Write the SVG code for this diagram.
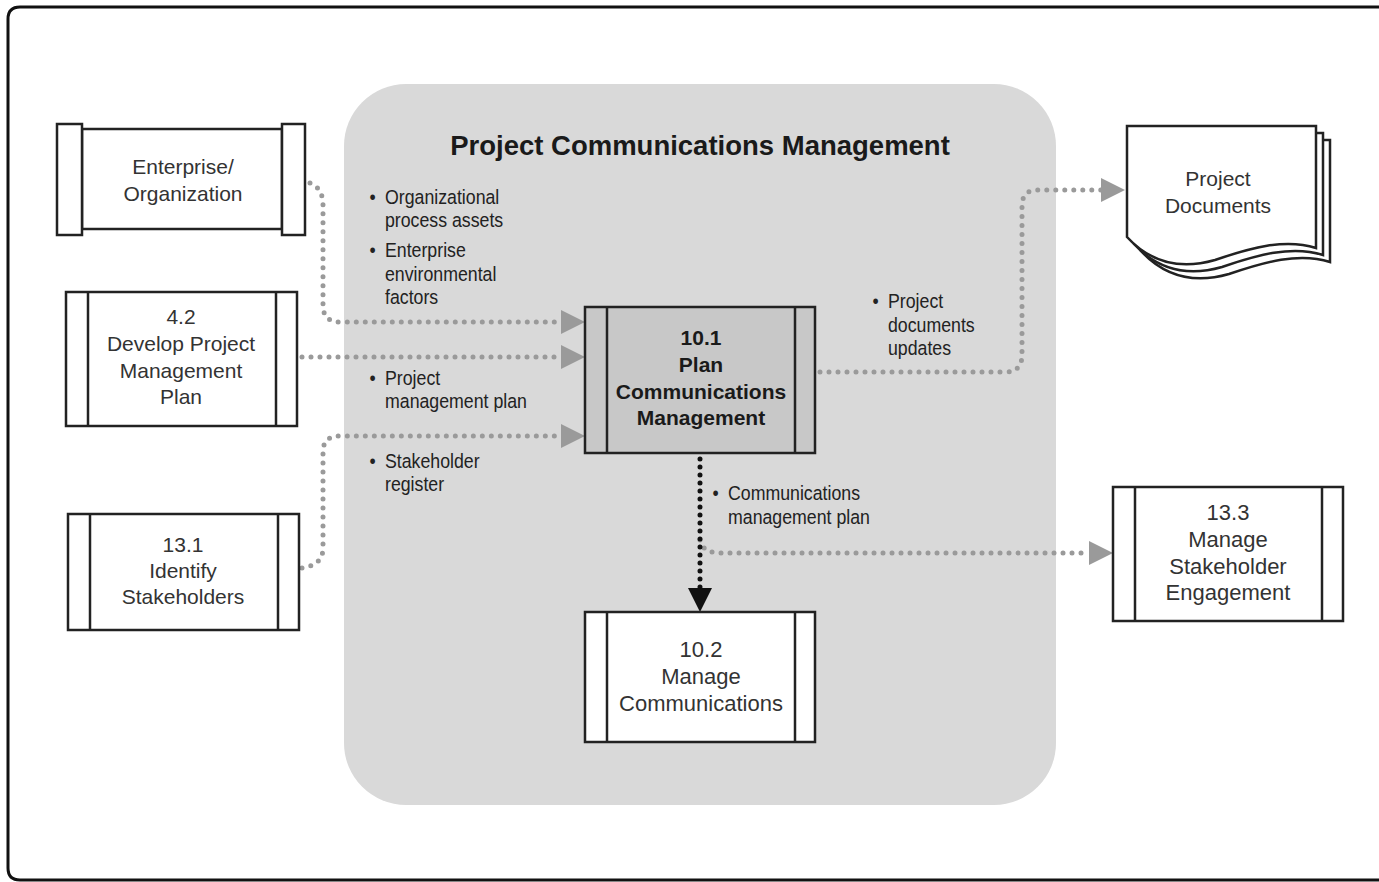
<svg xmlns="http://www.w3.org/2000/svg" width="1379" height="882" viewBox="0 0 1379 882">
<style>
.box{fill:#fff;stroke:#222;stroke-width:2.5}
.gbox{fill:#c8c8c8;stroke:#222;stroke-width:2.5}
.ln{stroke:#222;stroke-width:2.5}
.nt{font-family:"Liberation Sans",Arial,sans-serif;font-size:21px;fill:#333;text-anchor:middle}
.bt{font-family:"Liberation Sans",Arial,sans-serif;font-size:21px;font-weight:bold;fill:#1a1a1a;text-anchor:middle}
.lb{font-family:"Liberation Sans Narrow","Liberation Sans",Arial,sans-serif;font-size:19.5px;fill:#222}
.gd{fill:none;stroke:#9a9a9a;stroke-width:5;stroke-linecap:round;stroke-dasharray:0 9}
.kd{fill:none;stroke:#111;stroke-width:5;stroke-linecap:round;stroke-dasharray:0 8}
.doc{fill:#fff;stroke:#222;stroke-width:2.5}
</style>
<defs>
<marker id="ga" viewBox="0 0 24 24" refX="0" refY="12" markerWidth="24" markerHeight="24" markerUnits="userSpaceOnUse" orient="auto"><path d="M0,0 L24,12 L0,24 Z" fill="#9a9a9a"/></marker>
<marker id="ka" viewBox="0 0 24 24" refX="0" refY="12" markerWidth="24" markerHeight="24" markerUnits="userSpaceOnUse" orient="auto"><path d="M0,0 L24,12 L0,24 Z" fill="#111"/></marker>
</defs>
<rect x="0" y="0" width="1379" height="882" fill="#fff"/>
<path d="M1390,7 L20,7 Q8,7 8,19 L8,868 Q8,880 20,880 L1390,880" fill="none" stroke="#111" stroke-width="3"/>
<rect x="344" y="84" width="712" height="721" rx="62" fill="#d9d9d9"/>
<text x="700" y="155" font-family="Liberation Sans,Arial,sans-serif" font-size="27.5" font-weight="bold" fill="#1a1a1a" text-anchor="middle">Project Communications Management</text>

<g id="connectors">
<path class="gd" d="M310,183 Q323,188 323,205 L323,305 Q323,322 340,322 L561,322" marker-end="url(#ga)"/>
<path class="gd" d="M302,357 L561,357" marker-end="url(#ga)"/>
<path class="gd" d="M302,568 Q323,565 323,548 L323,452 Q323,436 340,436 L561,436" marker-end="url(#ga)"/>
<path class="gd" d="M820,372 L1005,372 Q1022,372 1022,355 L1022,206 Q1022,190 1038,190 L1101,190" marker-end="url(#ga)"/>
<path class="gd" d="M700,540 Q703,553 720,553 L1089,553" marker-end="url(#ga)"/>
<path class="kd" d="M700,459 L700,588" marker-end="url(#ka)"/>
</g>

<g id="labels">
<g transform="translate(385 0) scale(0.91 1)">
<text class="lb" x="-17" y="204">•</text><text class="lb" x="0" y="204">Organizational</text>
<text class="lb" x="0" y="227">process assets</text>
<text class="lb" x="-17" y="257">•</text><text class="lb" x="0" y="257">Enterprise</text>
<text class="lb" x="0" y="281">environmental</text>
<text class="lb" x="0" y="304">factors</text>
<text class="lb" x="-17" y="385">•</text><text class="lb" x="0" y="385">Project</text>
<text class="lb" x="0" y="408">management plan</text>
<text class="lb" x="-17" y="468">•</text><text class="lb" x="0" y="468">Stakeholder</text>
<text class="lb" x="0" y="491">register</text>
</g>
<g transform="translate(888 0) scale(0.91 1)">
<text class="lb" x="-17" y="308">•</text><text class="lb" x="0" y="308">Project</text>
<text class="lb" x="0" y="332">documents</text>
<text class="lb" x="0" y="355">updates</text>
</g>
<g transform="translate(728 0) scale(0.91 1)">
<text class="lb" x="-17" y="500">•</text><text class="lb" x="0" y="500">Communications</text>
<text class="lb" x="0" y="524">management plan</text>
</g>
</g>

<g id="enterprise">
<rect class="box" x="82" y="129" width="200" height="100"/>
<rect class="box" x="57" y="124" width="25" height="111"/>
<rect class="box" x="282" y="124" width="23" height="111"/>
<text class="nt" x="183" y="174">Enterprise/</text>
<text class="nt" x="183" y="201">Organization</text>
</g>

<g id="n42">
<rect class="box" x="66" y="292" width="231" height="134"/>
<line class="ln" x1="88" y1="292" x2="88" y2="426"/>
<line class="ln" x1="276" y1="292" x2="276" y2="426"/>
<text class="nt" x="181" y="324">4.2</text>
<text class="nt" x="181" y="351">Develop Project</text>
<text class="nt" x="181" y="378">Management</text>
<text class="nt" x="181" y="404">Plan</text>
</g>

<g id="n131">
<rect class="box" x="68" y="514" width="231" height="116"/>
<line class="ln" x1="90" y1="514" x2="90" y2="630"/>
<line class="ln" x1="278" y1="514" x2="278" y2="630"/>
<text class="nt" x="183" y="552">13.1</text>
<text class="nt" x="183" y="578">Identify</text>
<text class="nt" x="183" y="604">Stakeholders</text>
</g>

<g id="n101">
<rect class="gbox" x="585" y="307" width="230" height="146"/>
<line class="ln" x1="607" y1="307" x2="607" y2="453"/>
<line class="ln" x1="795" y1="307" x2="795" y2="453"/>
<text class="bt" x="701" y="345">10.1</text>
<text class="bt" x="701" y="372">Plan</text>
<text class="bt" x="701" y="399">Communications</text>
<text class="bt" x="701" y="425">Management</text>
</g>

<g id="n102">
<rect class="box" x="585" y="612" width="230" height="130"/>
<line class="ln" x1="607" y1="612" x2="607" y2="742"/>
<line class="ln" x1="795" y1="612" x2="795" y2="742"/>
<text class="nt" x="701" y="657" style="font-size:22px">10.2</text>
<text class="nt" x="701" y="684" style="font-size:22px">Manage</text>
<text class="nt" x="701" y="711" style="font-size:22px">Communications</text>
</g>

<g id="n133">
<rect class="box" x="1113" y="487" width="230" height="134"/>
<line class="ln" x1="1135" y1="487" x2="1135" y2="621"/>
<line class="ln" x1="1322" y1="487" x2="1322" y2="621"/>
<text class="nt" x="1228" y="520" style="font-size:22px">13.3</text>
<text class="nt" x="1228" y="547" style="font-size:22px">Manage</text>
<text class="nt" x="1228" y="574" style="font-size:22px">Stakeholder</text>
<text class="nt" x="1228" y="600" style="font-size:22px">Engagement</text>
</g>

<g id="projdocs">
<path class="doc" d="M1141,140 L1330,140 L1330,262 C1299,252 1264,262 1229,274 C1194,284 1164,276 1141,251 Z"/>
<path class="doc" d="M1134,133 L1323,133 L1323,255 C1292,245 1257,255 1222,267 C1187,277 1157,269 1134,244 Z"/>
<path class="doc" d="M1127,126 L1316,126 L1316,248 C1285,238 1250,248 1215,260 C1180,270 1150,262 1127,237 Z"/>
<text class="nt" x="1218" y="186">Project</text>
<text class="nt" x="1218" y="213">Documents</text>
</g>
</svg>
